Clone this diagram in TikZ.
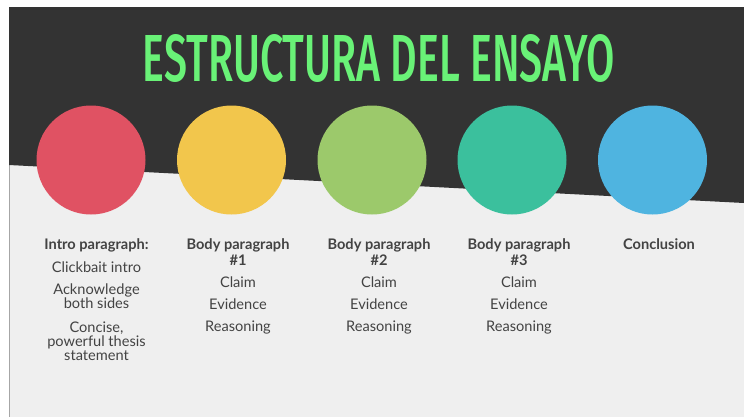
\documentclass[tikz,border=0pt]{standalone}
\usepackage{fontspec}
\setmainfont{Lato}
\newfontfamily\titlefont{Fira Sans}[UprightFont={* Medium}]
\definecolor{slidebg}{HTML}{EFEFEF}
\definecolor{darkbg}{HTML}{333333}
\definecolor{titlegreen}{HTML}{69F277}
\definecolor{cred}{HTML}{E05263}
\definecolor{cyellow}{HTML}{F2C64C}
\definecolor{cgreen}{HTML}{9CC96B}
\definecolor{cteal}{HTML}{3BC09D}
\definecolor{cblue}{HTML}{4FB4E0}
\definecolor{txt}{HTML}{434343}
\newcommand{\firststrut}{\rule{0pt}{10pt}}
\tikzset{
  dot/.style={circle, inner sep=0pt, minimum size=109pt},
  coltext/.style={anchor=north, align=center, text=txt, inner sep=0pt,
    font=\fontsize{14.6pt}{14.3pt}\selectfont},
}
\begin{document}
\begin{tikzpicture}[x=1pt,y=-1pt]
\useasboundingbox (0,0) rectangle (744,416);
\fill[white] (0,0) rectangle (744,416);
\filldraw[fill=slidebg, draw=gray!70, line width=0.6pt] (9,7) rectangle (746,418);
\fill[darkbg] (9,7) -- (744,7) -- (744,203) -- (9,165) -- cycle;
\node[text=titlegreen, inner sep=0pt] (title) at (379,58.5)
  {\resizebox{472pt}{47pt}{\titlefont ESTRUCTURA DEL ENSAYO}};
\node[dot, fill=cred] (c1) at (91,160) {};
\node[dot, fill=cyellow] (c2) at (231.5,160) {};
\node[dot, fill=cgreen] (c3) at (372,160) {};
\node[dot, fill=cteal] (c4) at (512,160) {};
\node[dot, fill=cblue] (c5) at (652.5,160) {};
\node[coltext] (t1) at (96.5,238.5)
  {\firststrut\textbf{Intro paragraph:}\\[8.5pt]
   Clickbait intro\\[7.5pt]
   Acknowledge\\both sides\\[9.5pt]
   Concise,\\powerful thesis\\statement};
\node[coltext] (t2) at (238,238.5)
  {\firststrut\textbf{Body paragraph}\\[1.7pt]\textbf{\#1}\\[7.7pt]
   Claim\\[7.7pt]Evidence\\[7.7pt]Reasoning};
\node[coltext] (t3) at (379,238.5)
  {\firststrut\textbf{Body paragraph}\\[1.7pt]\textbf{\#2}\\[7.7pt]
   Claim\\[7.7pt]Evidence\\[7.7pt]Reasoning};
\node[coltext] (t4) at (519,238.5)
  {\firststrut\textbf{Body paragraph}\\[1.7pt]\textbf{\#3}\\[7.7pt]
   Claim\\[7.7pt]Evidence\\[7.7pt]Reasoning};
\node[coltext] (t5) at (659,238.5) {\firststrut\textbf{Conclusion}};
\end{tikzpicture}
\end{document}
